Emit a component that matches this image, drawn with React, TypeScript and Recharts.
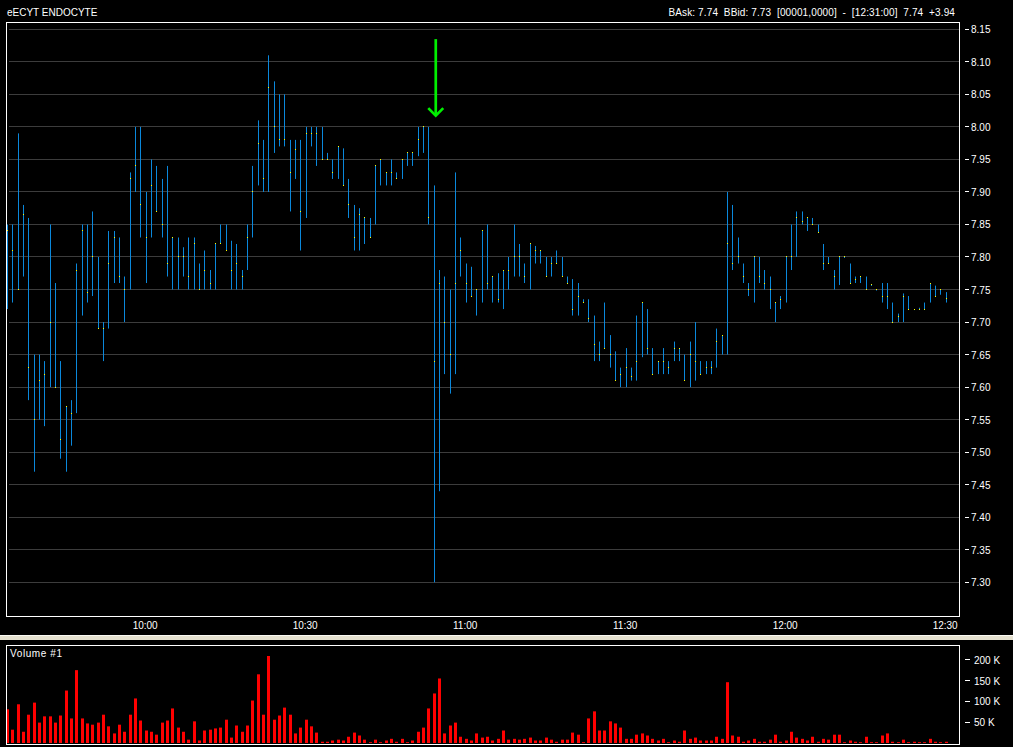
import React from "react";
import {
  ComposedChart,
  Bar,
  Line,
  XAxis,
  YAxis,
  CartesianGrid,
  ReferenceDot,
} from "recharts";

// one bar per minute, first bar at 9:34
const FIRST_MINUTE = 9 * 60 + 34;

const highs = [
  7.85, 7.85, 7.99, 7.88, 7.86, 7.65, 7.65, 7.64, 7.85, 7.76,
  7.64, 7.57, 7.58, 7.79, 7.85, 7.85, 7.87, 7.8, 7.7, 7.84,
  7.84, 7.83, 7.77, 7.93, 8.0, 8.0, 7.9, 7.95, 7.94, 7.92,
  7.94, 7.83, 7.83, 7.815, 7.83, 7.83, 7.79, 7.81, 7.78, 7.82,
  7.85, 7.85, 7.825, 7.82, 7.78, 7.85, 7.94, 8.01, 7.98, 8.11,
  8.07, 8.05, 8.05, 7.98, 7.98, 7.98, 8.0, 8.0, 8.0, 8.0,
  7.96, 7.95, 7.97, 7.967, 7.92, 7.88, 7.875, 7.86, 7.86, 7.94,
  7.95, 7.93, 7.95, 7.93, 7.95, 7.96, 7.96, 8.0, 8.0, 8.0,
  7.91, 7.78, 7.77, 7.75, 7.93, 7.83, 7.79, 7.785, 7.75, 7.84,
  7.85, 7.77, 7.775, 7.78, 7.8, 7.85, 7.82, 7.79, 7.82, 7.817,
  7.81, 7.8, 7.8, 7.81, 7.8, 7.77, 7.766, 7.76, 7.735, 7.735,
  7.71, 7.67, 7.73, 7.68, 7.655, 7.63, 7.66, 7.63, 7.71, 7.73,
  7.72, 7.66, 7.64, 7.66, 7.64, 7.67, 7.66, 7.65, 7.67, 7.7,
  7.64, 7.64, 7.64, 7.69, 7.68, 7.9, 7.88, 7.83, 7.79, 7.76,
  7.8, 7.8, 7.78, 7.77, 7.73, 7.74, 7.8, 7.85, 7.87, 7.87,
  7.86, 7.86, 7.85, 7.82, 7.8, 7.78, 7.8, 7.8, 7.79, 7.77,
  7.77, 7.77, 7.757, 7.75, 7.76, 7.76, 7.73, 7.713, 7.744, 7.74,
  7.72, 7.722, 7.73, 7.76, 7.756, 7.75, 7.746,
];

const lows = [
  7.72, 7.73, 7.75, 7.77, 7.58, 7.47, 7.55, 7.54, 7.6, 7.6,
  7.49, 7.47, 7.51, 7.56, 7.71, 7.73, 7.74, 7.69, 7.64, 7.69,
  7.76, 7.76, 7.7, 7.75, 7.9, 7.83, 7.76, 7.83, 7.87, 7.83,
  7.77, 7.75, 7.75, 7.77, 7.75, 7.75, 7.75, 7.75, 7.75, 7.75,
  7.82, 7.81, 7.75, 7.75, 7.75, 7.78, 7.83, 7.91, 7.9, 7.9,
  7.96, 7.97, 7.97, 7.87, 7.92, 7.81, 7.86, 7.97, 7.94, 7.95,
  7.95, 7.92, 7.92, 7.91, 7.86, 7.81, 7.81, 7.82, 7.83, 7.85,
  7.91, 7.91, 7.91, 7.92, 7.92, 7.94, 7.94, 7.955, 7.96, 7.85,
  7.3, 7.44, 7.62, 7.59, 7.62, 7.77, 7.73, 7.74, 7.71, 7.73,
  7.75, 7.73, 7.73, 7.72, 7.75, 7.77, 7.77, 7.76, 7.75, 7.79,
  7.79, 7.77, 7.77, 7.79, 7.77, 7.76, 7.71, 7.71, 7.73, 7.7,
  7.64, 7.64, 7.66, 7.63, 7.61, 7.6, 7.6, 7.61, 7.61, 7.646,
  7.65, 7.62, 7.62, 7.62, 7.62, 7.64, 7.64, 7.61, 7.6, 7.61,
  7.62, 7.62, 7.62, 7.63, 7.65, 7.65, 7.78, 7.79, 7.76, 7.74,
  7.73, 7.76, 7.75, 7.72, 7.7, 7.72, 7.73, 7.78, 7.8, 7.85,
  7.84, 7.85, 7.837, 7.78, 7.79, 7.75, 7.757, 7.8, 7.76, 7.76,
  7.76, 7.75, 7.757, 7.75, 7.73, 7.72, 7.7, 7.7, 7.7, 7.72,
  7.72, 7.72, 7.72, 7.73, 7.74, 7.742, 7.73,
];

const closes = [
  7.84, 7.81, 7.75, 7.865, 7.63, 7.55, 7.61, 7.62, 7.7, 7.6,
  7.52, 7.57, 7.56, 7.78, 7.84, 7.745, 7.8, 7.69, 7.69, 7.79,
  7.83, 7.77, 7.75, 7.92, 7.94, 7.88, 7.83, 7.91, 7.87, 7.85,
  7.79, 7.83, 7.8, 7.8, 7.77, 7.82, 7.75, 7.78, 7.76, 7.82,
  7.82, 7.81, 7.78, 7.79, 7.77, 7.83, 7.9, 7.975, 7.92, 8.06,
  8.0, 7.98, 7.98, 7.93, 7.965, 7.87, 7.99, 7.99, 7.99, 7.95,
  7.95, 7.93, 7.97, 7.91, 7.88, 7.83, 7.865, 7.86, 7.83, 7.94,
  7.95, 7.93, 7.93, 7.92, 7.95, 7.96, 7.96, 7.98, 8.0, 7.86,
  7.64, 7.76, 7.7, 7.65, 7.76, 7.81, 7.76, 7.74, 7.75, 7.84,
  7.76, 7.77, 7.735, 7.78, 7.78, 7.8, 7.8, 7.77, 7.82, 7.81,
  7.81, 7.77, 7.79, 7.79, 7.77, 7.76, 7.72, 7.74, 7.73, 7.705,
  7.665, 7.65, 7.66, 7.65, 7.61, 7.62, 7.63, 7.617, 7.64, 7.73,
  7.66, 7.62, 7.64, 7.64, 7.63, 7.66, 7.66, 7.61, 7.65, 7.64,
  7.62, 7.63, 7.63, 7.67, 7.68, 7.82, 7.79, 7.8, 7.77, 7.75,
  7.8, 7.77, 7.76, 7.75, 7.73, 7.735, 7.8, 7.8, 7.86, 7.855,
  7.86, 7.85, 7.837, 7.79, 7.79, 7.77, 7.8, 7.8, 7.76, 7.766,
  7.77, 7.75, 7.757, 7.75, 7.74, 7.74, 7.7, 7.708, 7.74, 7.72,
  7.72, 7.72, 7.72, 7.76, 7.74, 7.75, 7.736,
];

// volume in thousands of shares
const volumes = [
  81, 32, 93, 27, 68, 97, 49, 64, 64, 49,
  66, 126, 59, 175, 59, 47, 44, 49, 68, 40,
  23, 44, 27, 68, 107, 54, 30, 27, 20, 49,
  54, 83, 37, 27, 8, 52, 6, 30, 32, 35,
  37, 56, 13, 42, 27, 42, 102, 165, 68, 209,
  56, 66, 85, 68, 23, 37, 56, 40, 25, 3,
  3, 6, 8, 6, 15, 25, 18, 8, 2, 8,
  2, 6, 10, 3, 10, 2, 6, 27, 37, 83,
  119, 155, 23, 42, 49, 15, 10, 6, 23, 13,
  15, 6, 10, 30, 8, 10, 8, 10, 13, 6,
  6, 13, 8, 3, 8, 8, 25, 20, 2, 59,
  76, 30, 30, 52, 47, 37, 10, 10, 20, 23,
  18, 10, 6, 10, 2, 6, 3, 30, 10, 13,
  6, 6, 6, 15, 10, 146, 18, 15, 3, 6,
  10, 3, 3, 8, 20, 3, 6, 27, 13, 10,
  6, 15, 3, 10, 8, 20, 20, 2, 6, 3,
  2, 15, 2, 2, 18, 23, 3, 2, 8, 2,
  3, 2, 2, 10, 3, 2, 3,
];

const priceTicks = [
  7.3, 7.35, 7.4, 7.45, 7.5, 7.55, 7.6, 7.65, 7.7, 7.75,
  7.8, 7.85, 7.9, 7.95, 8.0, 8.05, 8.1, 8.15,
];
const timeTicks = [600, 630, 660, 690, 720, 750];
const volumeTicks = [50, 100, 150, 200];

const titleText = "eECYT ENDOCYTE";
const quoteText = "BAsk: 7.74  BBid: 7.73  [00001,0000]  -  [12:31:00]  7.74  +3.94";
const volumeTitle = "Volume #1";

// green marker above the 10:54 bar
const arrowAt = { t: 654.3, price: 8.015 };

const data = highs.map((h, i) => ({
  t: FIRST_MINUTE + i,
  range: [lows[i], h],
  close: closes[i],
  volume: volumes[i],
}));

const FONT = '"Liberation Sans", Arial, sans-serif';
const BLUE = "#0a88dc";
const X_DOMAIN = [573.72, 752.41];

const fmtTime = (m: number) => `${Math.floor(m / 60)}:${String(m % 60).padStart(2, "0")}`;

// recharts centres bars ~0.16px left of the point scale, nudge so sticks and close ticks share a column
const stickX = (x: number, width: number) => Math.floor(x + width / 2 + 0.2);

function PriceStick(props: any) {
  const { x, y, width, height } = props;
  if (x == null || y == null) return null;
  const top = Math.min(y, y + height);
  const h = Math.max(Math.abs(height), 1);
  return <rect x={stickX(x, width)} y={top} width={1} height={h} fill={BLUE} />;
}

function VolumeStick(props: any) {
  const { x, y, width, height } = props;
  if (x == null || y == null) return null;
  return <rect x={stickX(x, width) - 1} y={y} width={3} height={Math.max(height, 1)} fill="#ff0000" />;
}

function CloseTick(props: any) {
  const { cx, cy, index } = props;
  if (cx == null || cy == null) return <g key={index} />;
  return <rect key={index} x={Math.floor(cx)} y={Math.floor(cy)} width={1} height={1} fill="#ffff00" />;
}

function GridLine(props: any) {
  const { x1, x2, y1, index } = props;
  const y = Math.floor(y1) + 0.5;
  return <line key={index} x1={x1 + 3} x2={x2} y1={y} y2={y} stroke="#3c3c3c" strokeWidth={1} />;
}

function PriceTick({ x, y, payload }: any) {
  return (
    <g>
      <line x1={x + 6} x2={x + 10} y1={Math.floor(y) + 0.5} y2={Math.floor(y) + 0.5} stroke="#fff" />
      <text x={x + 12} y={y} dy={4} fill="#fff" fontSize={10} fontFamily={FONT}>
        {payload.value.toFixed(2)}
      </text>
    </g>
  );
}

function VolumeTick({ x, y, payload }: any) {
  return (
    <g>
      <line x1={x + 6} x2={x + 11} y1={Math.floor(y) + 0.5} y2={Math.floor(y) + 0.5} stroke="#fff" />
      <text x={x + 15} y={y} dy={4} fill="#fff" fontSize={10} fontFamily={FONT}>
        {`${payload.value} K`}
      </text>
    </g>
  );
}

function TimeTick({ x, y, payload }: any) {
  return (
    <text x={x - 1} y={y + 13} textAnchor="middle" fill="#fff" fontSize={10} fontFamily={FONT}>
      {fmtTime(payload.value)}
    </text>
  );
}

function DownArrow({ cx, cy }: any) {
  if (cx == null || cy == null) return null;
  return (
    <g>
      <line x1={cx} x2={cx} y1={cy - 78} y2={cy - 2} stroke="#00f000" strokeWidth={2.7} />
      <polyline
        points={`${cx - 7.5},${cy - 9} ${cx},${cy - 1.5} ${cx + 7.5},${cy - 9}`}
        fill="none"
        stroke="#00f000"
        strokeWidth={2.7}
      />
    </g>
  );
}

const panelBorder = (top: number, height: number): React.CSSProperties => ({
  position: "absolute",
  left: 6,
  top,
  width: 954,
  height,
  boxSizing: "border-box",
  border: "1px solid #fff",
  pointerEvents: "none",
});

export default function App() {
  return (
    <div style={{ position: "relative", width: 1013, height: 747, background: "#000", overflow: "hidden" }}>
      <style>{"body{margin:0;background:#000}"}</style>

      <svg width={1013} height={22} style={{ position: "absolute", left: 0, top: 0 }}>
        <text x={7} y={16} fill="#fff" fontSize={10} fontFamily={FONT}>
          {titleText}
        </text>
        <text
          x={955}
          y={16}
          textAnchor="end"
          fill="#fff"
          fontSize={10}
          fontFamily={FONT}
          letterSpacing={0.12}
          style={{ whiteSpace: "pre" }}
        >
          {quoteText}
        </text>
      </svg>

      <div style={{ position: "absolute", left: 0, top: 0 }}>
        <ComposedChart width={1013} height={636} data={data} margin={{ top: 22, right: 4, bottom: 0, left: 6 }}>
          <CartesianGrid vertical={false} horizontal={GridLine} />
          <XAxis
            dataKey="t"
            type="number"
            domain={X_DOMAIN}
            allowDataOverflow
            ticks={timeTicks}
            interval={0}
            tick={<TimeTick />}
            tickLine={false}
            axisLine={false}
            tickSize={0}
            tickMargin={0}
            height={20}
          />
          <YAxis
            orientation="right"
            domain={[7.2482, 8.1612]}
            allowDataOverflow
            ticks={priceTicks}
            interval={0}
            tick={<PriceTick />}
            tickLine={false}
            axisLine={false}
            tickSize={0}
            tickMargin={0}
            width={50}
          />
          <Bar dataKey="range" barSize={1} shape={<PriceStick />} isAnimationActive={false} />
          <Line
            dataKey="close"
            stroke="none"
            dot={CloseTick}
            activeDot={false}
            isAnimationActive={false}
          />
          <ReferenceDot x={arrowAt.t} y={arrowAt.price} shape={<DownArrow />} />
        </ComposedChart>
      </div>
      <div style={panelBorder(22, 595)} />

      <div
        style={{
          position: "absolute",
          left: 0,
          top: 635,
          width: 1013,
          height: 5,
          background: "#e4e0cf",
          borderTop: "1px solid #fbfaf4",
          boxSizing: "border-box",
        }}
      />

      <div style={{ position: "absolute", left: 0, top: 645 }}>
        <ComposedChart width={1013} height={102} data={data} margin={{ top: 1, right: 4, bottom: 4, left: 6 }}>
          <XAxis dataKey="t" type="number" domain={X_DOMAIN} allowDataOverflow hide />
          <YAxis
            orientation="right"
            domain={[0, 233]}
            allowDataOverflow
            ticks={volumeTicks}
            interval={0}
            tick={<VolumeTick />}
            tickLine={false}
            axisLine={false}
            tickSize={0}
            tickMargin={0}
            width={50}
          />
          <Bar dataKey="volume" barSize={3} shape={<VolumeStick />} isAnimationActive={false} />
        </ComposedChart>
      </div>
      <div style={panelBorder(645, 100)} />

      <svg width={120} height={20} style={{ position: "absolute", left: 0, top: 645 }}>
        <text x={10} y={12} fill="#fff" fontSize={10} fontFamily={FONT} letterSpacing={0.6}>
          {volumeTitle}
        </text>
      </svg>
    </div>
  );
}
